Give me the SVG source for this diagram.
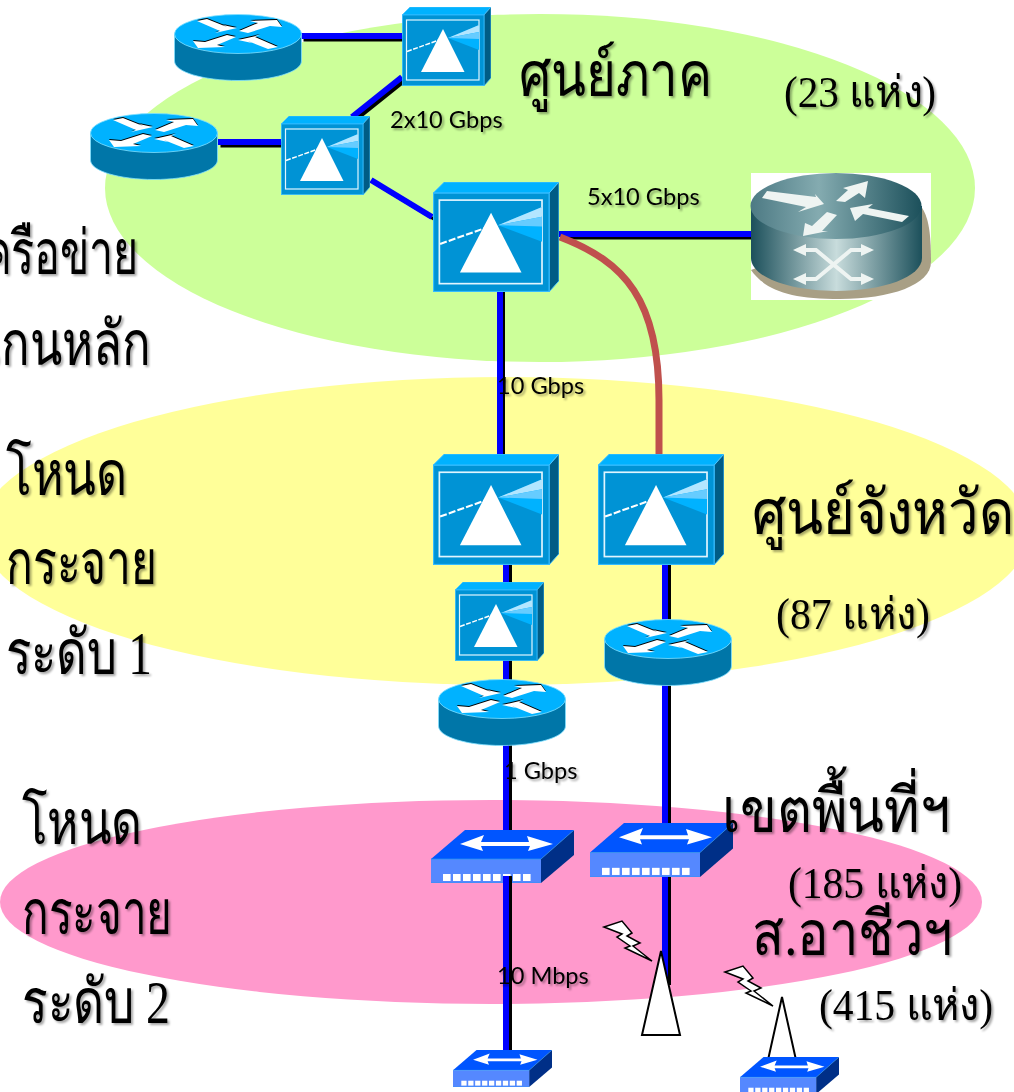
<svg xmlns="http://www.w3.org/2000/svg" width="1014" height="1092" viewBox="0 0 1014 1092">
<style>
.th{font-family:"Liberation Serif","Noto Sans",serif;fill:#000;filter:url(#sh)}
.l{font-size:62px}.m{font-size:44px}
.lb{font-family:"Lato","Open Sans",sans-serif;font-size:23.6px;fill:#000;filter:url(#sh)}
.k{fill:none;stroke:#000;stroke-width:6;transform:translate(2.5px,2.5px)}
.b{fill:none;stroke:#0000FF;stroke-width:6}
.ant{fill:#fff;stroke:#000;stroke-width:2}
.bolt{fill:#fff;stroke:#000;stroke-width:1.5}
</style>
<defs>
<filter id="sh" x="-10%" y="-10%" width="120%" height="130%"><feDropShadow dx="2" dy="2" stdDeviation="1.2" flood-color="#000" flood-opacity="0.35"/></filter>
<linearGradient id="gt" x1="0" x2="1" y1="0" y2="0"><stop offset="0" stop-color="#4D7A84"/><stop offset=".4" stop-color="#84ABB0"/><stop offset="1" stop-color="#1C505B"/></linearGradient>
<linearGradient id="gs" x1="0" x2="1" y1="0" y2="0"><stop offset="0" stop-color="#1C505B"/><stop offset=".5" stop-color="#C8DCDC"/><stop offset="1" stop-color="#1C505B"/></linearGradient>
<symbol id="dir" viewBox="0 0 89 79" preserveAspectRatio="none">
<polygon points="0,8 8,0 89,0 82,8" fill="#00B2FF" stroke="#4CC4FF" stroke-width=".7"/>
<polygon points="82,8 89,0 89,71 82,79" fill="#005C85" stroke="#4CC4FF" stroke-width=".7"/>
<rect x=".4" y="8" width="81.6" height="70.6" fill="#0093D5" stroke="#33BBFF" stroke-width=".8"/>
<rect x="4.5" y="13" width="72.5" height="60" fill="none" stroke="#E0F5FF" stroke-width="1.2"/>
<polygon points="46,31 77,18 77,43" fill="#00B2FF"/>
<polygon points="46,31 77,18 77,25" fill="#B3E6FF"/>
<polygon points="46,31 77,25 77,32" fill="#66CCFF"/>
<path d="M5,44.5L37,33" fill="none" stroke="#fff" stroke-width="1.5" stroke-dasharray="5 1.5"/>
<polygon points="41,22 19,65 62.5,65" fill="#fff"/>
</symbol>
<symbol id="rt" viewBox="0 0 128 67">
<path d="M.5,20V47C.5,58 29,66.5 64,66.5S127.5,58 127.5,47V20Z" fill="#0076A8" stroke="#80DFFF" stroke-width=".8"/>
<ellipse cx="64" cy="20" rx="63.5" ry="19.5" fill="#00B2FF" stroke="#80DFFF" stroke-width=".8"/>
<g fill="#000" transform="translate(0,-1)">
<polygon points="23,7 33,5 53,13 49,11 63,14 41,19 46,17"/><polygon points="65,17 84,9 76,7 103,6 108,13 96,12 74,19"/>
<polygon points="62,23 43,31 51,33 24,34 19,27 31,28 53,21"/><polygon points="104,33 94,35 74,27 78,29 64,26 86,21 81,23"/>
</g>
<g fill="#fff">
<polygon points="23,7 33,5 53,13 49,11 63,14 41,19 46,17"/><polygon points="65,17 84,9 76,7 103,6 108,13 96,12 74,19"/>
<polygon points="62,23 43,31 51,33 24,34 19,27 31,28 53,21"/><polygon points="104,33 94,35 74,27 78,29 64,26 86,21 81,23"/>
</g>
</symbol>
<symbol id="sw" viewBox="0 0 143 53" preserveAspectRatio="none">
<polygon points="0,29 34,0 143,0 110,29" fill="#0055FF"/>
<polygon points="110,29 143,0 143,25 110,53" fill="#002F87"/>
<rect x="0" y="29" width="110" height="24" fill="#5588FF"/>
<path d="M0,29H110L143,0M0,53H110" fill="none" stroke="#2299EE" stroke-width=".7"/>
<polygon points="29,14 53,5 50,12 98,12 96,6 122,14 97,21 99,16 50,16 52,21" fill="#fff"/>
<g fill="#fff"><rect x="12" y="44" width="7.6" height="7"/><rect x="22" y="44" width="7.6" height="7"/><rect x="32" y="44" width="7.6" height="7"/><rect x="42" y="44" width="7.6" height="7"/><rect x="52" y="44" width="7.6" height="7"/><rect x="62" y="44" width="7.6" height="7"/><rect x="72" y="44" width="7.6" height="7"/><rect x="82" y="44" width="7.6" height="7"/><rect x="92" y="44" width="7.6" height="7"/></g>
</symbol>
<polygon id="bl" class="bolt" points="604,927 622,921 632,933 627,936 640,943 633,946 652,961 625,948 630,946 617,937 622,934"/>
</defs>

<g id="zones">
<ellipse id="zone-region" cx="540" cy="188" rx="435" ry="174" fill="#CCFF99"/>
<ellipse id="zone-province" cx="505" cy="531" rx="525" ry="154" fill="#FFFF99"/>
<ellipse id="zone-area" cx="491" cy="902" rx="491" ry="102" fill="#FF99CC"/>
</g>

<g id="switch-a"><use href="#sw" x="431" y="830" width="143" height="53"/></g>

<g id="connectors">
<path class="k" d="M301,36H402"/><path class="b" d="M301,36H402"/>
<path class="k" d="M218,142H281"/><path class="b" d="M218,142H281"/>
<path class="k" d="M352,117L402,77"/><path class="b" d="M352,117L402,77"/>
<path class="k" d="M371,180L432,217" style="stroke-width:3"/><path class="b" d="M371,180L432,217"/>
<path class="k" d="M559,234H751"/><path class="b" d="M559,234H751"/>
<path class="k" d="M500,292V455" style="transform:translate(2px,0)"/><path class="b" d="M500,292V455"/>
<path d="M560,237C625,262 659,300 659,400V455" fill="none" stroke="#C0504D" stroke-width="7"/>
<path class="k" d="M506,565V830" style="transform:translate(3px,0)"/><path class="b" d="M506,565V830"/>
<path class="k" d="M506,876V1050" style="transform:translate(3px,0)"/><path class="b" d="M506,876V1050"/>
<path class="k" d="M665,565V823" style="transform:translate(3px,0)"/><path class="b" d="M665,565V823"/>
<path class="k" d="M665,877V985" style="transform:translate(3px,0)"/><path class="b" d="M665,877V985"/>
</g>

<g id="router-1"><use href="#rt" x="174" y="14" width="128" height="67"/></g>
<g id="router-2"><use href="#rt" x="90" y="113" width="128" height="67"/></g>
<g id="director-1"><use href="#dir" x="402" y="7" width="89" height="79"/></g>
<g id="director-2"><use href="#dir" x="281" y="116" width="89" height="79"/></g>
<g id="director-core"><use href="#dir" x="433" y="182" width="126" height="110"/></g>
<g id="core-router">
<rect x="751" y="173" width="180" height="127" fill="#fff"/>
<path d="M920,205C928,215 931,230 931,262C931,285 890,299 840,299S765,290 751,270Z" fill="#A89F85"/>
<path d="M751,206V258C751,277 789,291 836,291S922,277 922,258V206Z" fill="url(#gs)"/>
<ellipse cx="836" cy="206" rx="85.5" ry="33" fill="url(#gt)"/>
<g fill="#EEF4F2">
<polygon points="762,198 767,191 816,197 815,194 824,204 798,212 806,207"/>
<polygon points="836,201 848,190 843,188 868,181 865,198 859,193 845,202"/>
<polygon points="850,208 873,204 868,208 909,216 902,222 863,214 855,221"/>
<polygon points="803,236 805,223 812,226 827,212 837,215 822,231 828,231"/>
<polygon points="793,250 806,244 806,256"/><polygon points="874,250 861,244 861,256"/>
<polygon points="793,279 806,273 806,285"/><polygon points="874,279 861,273 861,285"/>
</g>
<path d="M804,250H816L851,279H863M804,279H816L851,250H863" fill="none" stroke="#EEF4F2" stroke-width="4"/>
</g>
<g id="director-p1"><use href="#dir" x="433" y="454" width="126" height="111"/></g>
<g id="director-p2"><use href="#dir" x="598" y="454" width="126" height="111"/></g>
<g id="director-p3"><use href="#dir" x="455" y="582" width="89" height="79"/></g>
<g id="router-3"><use href="#rt" x="604" y="619" width="128" height="67"/></g>
<g id="router-4"><use href="#rt" x="438" y="679" width="128" height="67"/></g>
<g id="switch-b"><use href="#sw" x="590" y="823" width="143" height="54"/></g>
<g id="antenna-1"><polygon class="ant" points="661,951 642,1035 680,1035"/><use href="#bl"/></g>
<g id="antenna-2"><polygon class="ant" points="782,997 768,1060 796,1060"/><use href="#bl" transform="translate(121,45)"/></g>
<g id="switch-c"><use href="#sw" x="453" y="1050" width="99" height="37"/></g>
<g id="switch-d"><use href="#sw" x="740" y="1057" width="99" height="37"/></g>

<g id="labels">
<text class="th l" x="519" y="96" textLength="193" lengthAdjust="spacingAndGlyphs">ศูนย์ภาค</text>
<text class="th m" x="784" y="107" textLength="152" lengthAdjust="spacingAndGlyphs">(23 แห่ง)</text>
<text class="th l" x="-32" y="274" textLength="170" lengthAdjust="spacingAndGlyphs">เครือข่าย</text>
<text class="th l" x="-30" y="365" textLength="181" lengthAdjust="spacingAndGlyphs">แกนหลัก</text>
<text class="th l" x="6" y="495" textLength="121" lengthAdjust="spacingAndGlyphs">โหนด</text>
<text class="th l" x="6" y="584" textLength="151" lengthAdjust="spacingAndGlyphs">กระจาย</text>
<text class="th l" x="6" y="674" textLength="146" lengthAdjust="spacingAndGlyphs">ระดับ 1</text>
<text class="th l" x="752" y="534" textLength="262" lengthAdjust="spacingAndGlyphs">ศูนย์จังหวัด</text>
<text class="th m" x="776" y="629" textLength="154" lengthAdjust="spacingAndGlyphs">(87 แห่ง)</text>
<text class="th l" x="722" y="832" textLength="228" lengthAdjust="spacingAndGlyphs">เขตพื้นที่ฯ</text>
<text class="th m" x="788" y="898" textLength="174" lengthAdjust="spacingAndGlyphs">(185 แห่ง)</text>
<text class="th l" x="752" y="955" textLength="201" lengthAdjust="spacingAndGlyphs">ส.อาชีวฯ</text>
<text class="th m" x="819" y="1020" textLength="174" lengthAdjust="spacingAndGlyphs">(415 แห่ง)</text>
<text class="th l" x="22" y="844" textLength="120" lengthAdjust="spacingAndGlyphs">โหนด</text>
<text class="th l" x="22" y="934" textLength="150" lengthAdjust="spacingAndGlyphs">กระจาย</text>
<text class="th l" x="22" y="1023" textLength="148" lengthAdjust="spacingAndGlyphs">ระดับ 2</text>
<text class="lb" x="390" y="128">2x10 Gbps</text>
<text class="lb" x="587" y="205">5x10 Gbps</text>
<text class="lb" x="497" y="394">10 Gbps</text>
<text class="lb" x="504" y="779">1 Gbps</text>
<text class="lb" x="497" y="984">10 Mbps</text>
</g>
</svg>
